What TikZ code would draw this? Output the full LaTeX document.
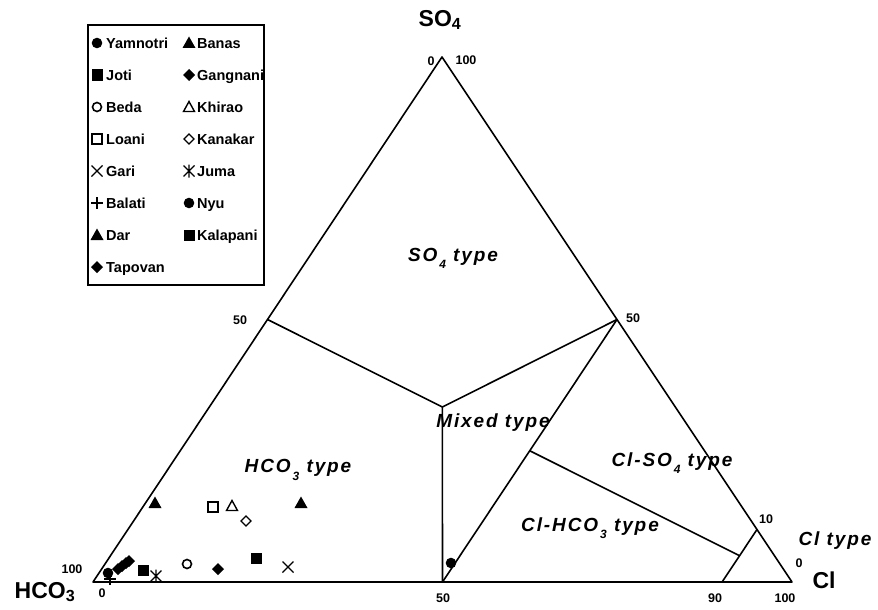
\documentclass[tikz,border=0pt]{standalone}
\usepackage{fontspec}
\setmainfont{Liberation Sans}
\newfontfamily\typefont{Liberation Sans}[LetterSpace=10]
\usetikzlibrary{calc}

\newcommand\lsub[1]{\raisebox{-0.38em}{\fontsize{12}{12}\selectfont\,#1}}

\tikzset{
  edge/.style={line width=1.6pt, line join=round},
  typelbl/.style={font=\typefont\fontsize{19}{21}\selectfont\bfseries\itshape, inner sep=1pt},
  axlbl/.style={font=\fontsize{23}{25}\selectfont\bfseries, inner sep=1pt},
  ticklbl/.style={font=\fontsize{12.5}{13}\selectfont\bfseries, inner sep=1pt},
  lgtext/.style={font=\fontsize{14.5}{16}\selectfont\bfseries, anchor=base west, inner sep=0pt},
  % markers
  fcirc/.pic={\fill (0,0) circle (5.3);},
  ocirc/.pic={\draw[line width=1.6pt] (0,0) circle (4.5);},
  fsq/.pic={\fill (-5.5,-5.5) rectangle (5.5,5.5);},
  osq/.pic={\draw[line width=1.4pt] (-5,-5) rectangle (5,5);},
  ftri/.pic={\fill (-6.5,5) -- (6.5,5) -- (0,-6.5) -- cycle;},
  otri/.pic={\draw[line width=1.4pt, line join=miter] (-5.5,4.5) -- (5.5,4.5) -- (0,-5.5) -- cycle;},
  fdia/.pic={\fill (-6,0) -- (0,-6) -- (6,0) -- (0,6) -- cycle;},
  odia/.pic={\draw[line width=1.4pt] (-5,0) -- (0,-5) -- (5,0) -- (0,5) -- cycle;},
  xmk/.pic={\draw[line width=1.4pt] (-5.5,-5.5) -- (5.5,5.5) (-5.5,5.5) -- (5.5,-5.5);},
  pmk/.pic={\draw[line width=1.4pt] (-6,0) -- (6,0) (0,-6) -- (0,6);},
  amk/.pic={\draw[line width=1.4pt] (-5.5,-5.5) -- (5.5,5.5) (-5.5,5.5) -- (5.5,-5.5) (0,-6.5) -- (0,6.5);},
}

\begin{document}
\begin{tikzpicture}[x=1pt,y=-1pt]
  \path[use as bounding box] (0,0) rectangle (878,610);
  \fill[white] (0,0) rectangle (878,610);

  % corners of the triangle
  \coordinate (H) at (93,582);
  \coordinate (S) at (442,57);
  \coordinate (C) at (792,582);
  \coordinate (L50) at ($(H)!0.5!(S)$);
  \coordinate (R50) at ($(S)!0.5!(C)$);
  \coordinate (B50) at ($(H)!0.5!(C)$);
  \coordinate (G) at ($(B50)!0.3333!(S)$);
  \coordinate (M) at ($(B50)!0.5!(R50)$);
  \coordinate (R10) at ($(C)!0.1!(S)$);
  \coordinate (B90) at ($(H)!0.9!(C)$);
  \coordinate (N) at ($(B90)!0.5!(R10)$);

  \draw[edge] (H) -- (S) -- (C) -- cycle;
  \draw[edge, line width=2.2pt] (H) -- (C);
  \draw[edge] (L50) -- (G) -- (R50);
  \draw[edge] (G) -- (B50);
  \draw[edge] (B50) -- (R50);
  \draw[edge] (M) -- (N);
  \draw[edge] (B90) -- (R10);

  % axis names
  \node[axlbl] (nSO4) at (440,20) {SO\textsubscript{4}};
  \node[axlbl] (nHCO3) at (45,592) {HCO\textsubscript{3}};
  \node[axlbl] (nCl) at (824,580) {Cl};

  % scale numbers
  \node[ticklbl] (t1) at (431,61) {0};
  \node[ticklbl] (t2) at (466,60) {100};
  \node[ticklbl] (t3) at (240,320) {50};
  \node[ticklbl] (t4) at (633,318) {50};
  \node[ticklbl] (t5) at (766,519) {10};
  \node[ticklbl] (t6) at (799,563) {0};
  \node[ticklbl] (t7) at (72,569) {100};
  \node[ticklbl] (t8) at (102,593) {0};
  \node[ticklbl] (t9) at (443,598) {50};
  \node[ticklbl] (t10) at (715,598) {90};
  \node[ticklbl] (t11) at (785,598) {100};

  % water types
  \node[typelbl] (tySO4) at (453,258) {SO\lsub{4} type};
  \node[typelbl] (tyMix) at (493,423) {Mixed type};
  \node[typelbl] (tyHCO3) at (298,470) {HCO\lsub{3} type};
  \node[typelbl] (tyClSO4) at (672,463) {Cl-SO\lsub{4} type};
  \node[typelbl] (tyClHCO3) at (590,528) {Cl-HCO\lsub{3} type};
  \node[typelbl] (tyCl) at (835,541) {Cl type};

  % samples
  \pic at (155,503) {ftri};
  \pic at (301,503) {ftri};
  \pic at (213,507) {osq};
  \pic at (232,506) {otri};
  \pic at (246,521) {odia};
  \pic at (256,558) {fsq};
  \pic at (288,567) {xmk};
  \pic at (218,569) {fdia};
  \pic at (187,564) {ocirc};
  \pic at (143,570) {fsq};
  \pic at (156,576) {amk};
  \foreach \dx/\dy in {118/569, 122/566, 126/563, 129/561}
    \pic at (\dx,\dy) {fdia};
  \pic at (108,573) {fcirc};
  \pic at (110,579) {pmk};
  \pic at (451,563) {fcirc};

  % legend
  \draw[line width=1.1pt] (88,25) rectangle (264,285);
  \foreach \m/\t [count=\i] in {fcirc/Yamnotri, fsq/Joti, ocirc/Beda, osq/Loani,
      xmk/Gari, pmk/Balati, ftri/Dar, fdia/Tapovan} {
    \pic at (97,{43+32*(\i-1)}) {\m};
    \node[lgtext] (lgA\i) at (106,{48.5+32*(\i-1)}) {\t};
  }
  \foreach \m/\t [count=\i] in {ftri/Banas, fdia/Gangnani, otri/Khirao, odia/Kanakar,
      amk/Juma, fcirc/Nyu, fsq/Kalapani} {
    \pic at (189,{43+32*(\i-1)}) {\m};
    \node[lgtext] (lgB\i) at (197,{48.5+32*(\i-1)}) {\t};
  }
\end{tikzpicture}
\end{document}
